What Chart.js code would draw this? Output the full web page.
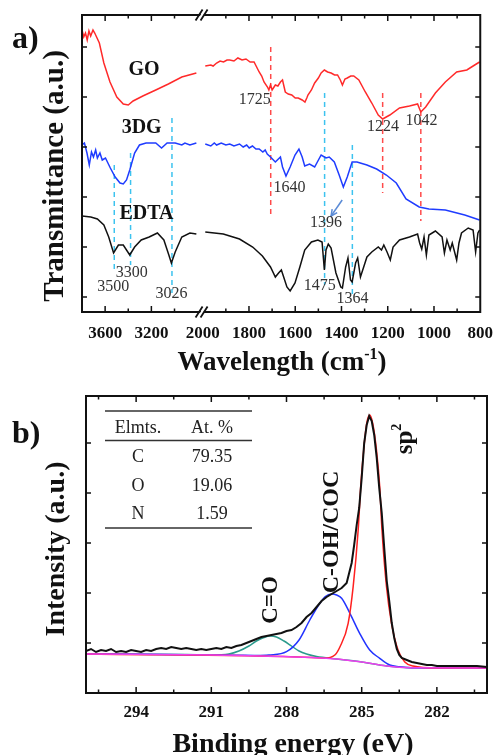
<!DOCTYPE html>
<html>
<head>
<meta charset="utf-8">
<script src="https://cdn.jsdelivr.net/npm/chart.js@4.4.0/dist/chart.umd.min.js"></script>
<style>
  html, body { margin: 0; padding: 0; background: #fff; }
  body { width: 504px; height: 755px; position: relative; overflow: hidden; }
  .box { position: absolute; left: 0; width: 504px; }
  #boxA { top: 0; height: 380px; }
  #boxB { top: 380px; height: 375px; }
</style>
</head>
<body>
<div class="box" id="boxA"><canvas id="ftirChart"></canvas></div>
<div class="box" id="boxB"><canvas id="xpsChart"></canvas></div>
<script>
// ---------- a) FTIR spectra (wavenumber, transmittance a.u.) ----------
const goWn = [3800, 3785, 3770, 3755, 3740, 3725, 3705, 3690, 3650, 3611, 3558, 3499, 3443, 3400, 3358, 3274, 3162, 3053, 2937, 2811,
  1989, 1965, 1955, 1940, 1925, 1910, 1895, 1883, 1865, 1848, 1830, 1813, 1795, 1778, 1756, 1745, 1735, 1720, 1714, 1707, 1700, 1686,
  1675, 1664, 1655, 1643, 1630, 1615, 1600, 1587, 1570, 1558, 1550, 1545, 1530, 1516, 1500, 1488, 1474, 1460, 1445, 1430, 1417, 1405,
  1396, 1385, 1375, 1360, 1347, 1325, 1297, 1269, 1241, 1222, 1191, 1149, 1106, 1071, 1057, 1036, 994, 951, 902, 858, 824, 803];
const goT = [282, 275, 279, 272, 281, 276, 282, 279, 269, 249, 230, 215, 208, 207, 211, 216, 222, 228, 235, 239,
  246, 247, 246, 249, 251, 250, 252, 252, 251, 254, 252, 253, 250, 250, 240, 236, 230, 225, 222, 227, 222, 227,
  226, 230, 232, 220, 218, 217, 214, 214, 212, 210, 214, 217, 222, 229, 234, 239, 242, 240, 239, 237, 237, 232,
  227, 233, 234, 236, 236, 232, 220, 209, 197, 193, 197, 204, 206, 208, 200, 205, 219, 230, 240, 242, 247, 250];

const dgWn = [3800, 3779, 3757, 3737, 3718, 3701, 3682, 3667, 3645, 3625, 3597, 3555, 3513, 3471, 3443, 3415, 3387, 3345, 3303, 3246,
  3162, 3112, 3064, 2994, 2937, 2910, 2867, 2811,
  1989, 1965, 1950, 1940, 1920, 1900, 1883, 1865, 1841, 1825, 1810, 1799, 1785, 1770, 1756, 1740, 1730, 1721, 1707, 1686, 1664, 1655,
  1640, 1622, 1601, 1584, 1570, 1559, 1538, 1516, 1488, 1467, 1453, 1431, 1410, 1392, 1375, 1354, 1333, 1290, 1248, 1206, 1163, 1121,
  1064, 1022, 951, 867, 803];
const dgT = [167, 169, 159, 147, 160, 155, 162, 154, 159, 152, 154, 144, 135, 129, 128, 132, 142, 159, 167, 169,
  169, 164, 169, 169, 167, 169, 167, 169,
  168, 166, 169, 167, 169, 167, 168, 166, 168, 165, 167, 164, 166, 163, 163, 160, 162, 158, 155, 150, 155, 145,
  136, 145, 157, 163, 155, 146, 148, 145, 157, 154, 155, 150, 137, 125, 135, 150, 150, 147, 143, 137, 129, 113,
  105, 103, 102, 97, 92];

const edtaWn = [3800, 3724, 3667, 3611, 3569, 3527, 3485, 3443, 3387, 3345, 3288, 3219, 3148, 3092, 3049, 3027, 2994, 2937, 2867, 2811,
  1989, 1911, 1841, 1784, 1742, 1707, 1686, 1672, 1660, 1650, 1636, 1622, 1601, 1580, 1559, 1530, 1502, 1484, 1474, 1467, 1457, 1445,
  1424, 1403, 1396, 1382, 1372, 1361, 1354, 1339, 1330, 1318, 1304, 1290, 1269, 1241, 1227, 1217, 1203, 1189, 1177, 1149, 1106, 1071,
  1062, 1053, 1043, 1033, 1022, 994, 965, 955, 944, 930, 921, 902, 892, 881, 852, 831, 820, 810, 803];
const edtaT = [96, 95, 93, 87, 75, 59, 67, 67, 57, 65, 72, 75, 79, 72, 57, 49, 60, 75, 79, 78,
  80, 78, 73, 65, 56, 45, 35, 39, 42, 35, 25, 21, 29, 45, 62, 70, 72, 70, 42, 62, 68, 64,
  39, 25, 24, 45, 54, 32, 30, 49, 54, 35, 45, 55, 60, 65, 62, 67, 60, 52, 65, 72, 75, 78,
  69, 63, 75, 57, 77, 81, 75, 59, 72, 62, 69, 52, 69, 79, 84, 82, 60, 79, 82];

const tickWn = [3600, 3200, 2000, 1800, 1600, 1400, 1200, 1000, 800];
const minorWn = [3400, 3000, 1900, 1700, 1500, 1300, 1100, 900];
const transTicks = [15, 65, 115, 165, 215, 265];

// dashed marker lines
const markWn = [3521, 3380, 3022, 1706, 1473, 1353, 1222, 1057];
const markTop = [147, 159, 194, 265, 219, 167, 219, 219];
const markBottom = [42, 47, 19, 94, 27, 15, 119, 91];
const markColor = ['#3cc3ef', '#3cc3ef', '#3cc3ef', '#ff4a4a', '#3cc3ef', '#3cc3ef', '#ff4a4a', '#ff4a4a'];

const peakText = ['1725', '1224', '1042', '1640', '1396', '3300', '3500', '3026', '1475', '1364'];
const peakTextWn = [1775, 1221, 1054, 1625, 1467, 3369, 3529, 3026, 1494, 1352];
const peakTextY = [212, 185, 191, 124.5, 89.3, 39.5, 25.3, 18, 26, 13.5];

const seriesNames = ['GO', '3DG', 'EDTA'];
const seriesNameWn = [3263, 3284, 3242];
const seriesNameY = [242, 184.5, 98.5];

// ---------- b) XPS C 1s ----------
const xpsE = [296.0, 295.8, 295.6, 295.4, 295.2, 295.0, 294.8, 294.6, 294.4, 294.2, 294.0, 293.8, 293.6, 293.4, 293.2, 293.0,
  292.8, 292.6, 292.4, 292.2, 292.0, 291.8, 291.6, 291.4, 291.2, 291.0, 290.8, 290.6, 290.4, 290.2, 290.0, 289.8, 289.6,
  289.4, 289.2, 289.0, 288.8, 288.6, 288.4, 288.2, 288.0, 287.8, 287.6, 287.4, 287.2, 287.0, 286.8, 286.6, 286.4, 286.2,
  286.0, 285.8, 285.6, 285.5, 285.4, 285.3, 285.2, 285.1, 285.0, 284.9, 284.8, 284.7, 284.6, 284.5, 284.4, 284.3, 284.2,
  284.1, 284.0, 283.9, 283.8, 283.7, 283.6, 283.5, 283.4, 283.2, 283.0, 282.8, 282.6, 282.4, 282.2, 282.0, 281.6, 281.2,
  280.8, 280.4, 280.0];
const xpsI = [42, 44, 41, 43, 42, 44, 41, 42, 41, 43, 42, 41, 43, 42, 44, 45,
  44, 46, 45, 44, 45, 44, 43, 44, 43, 44, 45, 44, 46, 45, 47, 48, 50,
  52, 54, 56, 57, 58, 59, 60, 62, 63, 66, 70, 76, 80, 86, 92, 96, 99,
  102, 105, 110, 120, 130, 148, 168, 185, 215, 250, 268, 277, 272, 258, 235, 205, 180,
  145, 112, 92, 70, 55, 44, 38, 35, 33, 31, 30, 29, 28, 28, 27, 27, 27,
  27, 27, 26];

const bgE = [296, 291, 289, 287, 286, 285.5, 285, 284.5, 284, 283.5, 283, 280];
const bgI = [39, 38, 37, 35.5, 34, 32.5, 31, 29, 27, 25.7, 25.3, 25];

const coE = [296, 292, 291, 290.3, 289.9, 289.5, 289.2, 288.9, 288.65, 288.4, 288.1, 287.8, 287.5, 287.2, 286.8, 286, 285, 284, 283, 280];
const coI = [39, 38.5, 38, 39, 42, 47, 52, 55.5, 57, 56, 52, 47, 42, 39, 36.5, 34, 31, 27, 25.3, 25];

const cohE = [296, 290, 289.2, 288.7, 288.0, 287.5, 287.07, 286.67, 286.45, 286.2, 286.0, 285.8, 285.47, 285.08, 284.68, 284.28, 283.88, 283.5, 283, 280];
const cohI = [39, 37.8, 37.5, 38, 41.3, 53, 73, 89.7, 96.5, 99, 98, 94.7, 79.7, 59.7, 43, 34.7, 28, 26.3, 25.3, 25];

const sp2E = [296, 287, 286.5, 286.07, 285.87, 285.54, 285.34, 285.14, 285.04, 284.92, 284.80, 284.68, 284.56, 284.41, 284.28, 284.19, 284.01, 283.81, 283.55, 283.28, 282.95, 282, 280];
const sp2I = [39, 35.5, 34.8, 38, 46, 69.7, 106.3, 163, 206.3, 243, 269.7, 278, 269.7, 243, 206.3, 163, 106.3, 69.7, 43, 31, 27, 25, 25];

const bindTicks = [294, 291, 288, 285, 282];
const bindMinor = [295.5, 292.5, 289.5, 286.5, 283.5, 280.5];
const intTicks = [50, 100, 150, 200, 250];

const elements = ['C', 'O', 'N'];
const atPercent = ['79.35', '19.06', '1.59'];

const compLabels = ['C=O', 'C-OH/COC'];
const compLabelE = [288.38, 285.95];
const compLabelI = [93, 161];
const sp2LabelE = 283.0, sp2LabelI = 254;

// ---------- helpers ----------
const SERIF = '"Liberation Serif", "Times New Roman", serif';

// broken axis: left part 3800-2760 squeezed 2x, right part 2000-800
function toAxis(wn) {
  return wn > 2400 ? (3800 - wn) / 2 : 522 + (2000 - wn);
}

function spectrum(wn, t, color) {
  const pts = [];
  for (let i = 0; i < wn.length; i++) {
    if (i > 0 && wn[i - 1] > 2400 && wn[i] <= 2400) pts.push({ x: 517, y: null });
    pts.push({ x: toAxis(wn[i]), y: t[i] });
  }
  return { data: pts, borderColor: color, borderWidth: 1.5, pointRadius: 0, tension: 0, spanGaps: false };
}

function xy(xs, ys) {
  return xs.map((v, i) => ({ x: v, y: ys[i] }));
}

// draw text made of parts (for superscripts); x is the centre
function drawParts(ctx, parts, x, y) {
  let total = 0;
  parts.forEach(p => { ctx.font = p.font; p.w = ctx.measureText(p.t).width; total += p.w; });
  let cx = x - total / 2;
  ctx.textAlign = 'left';
  ctx.textBaseline = 'alphabetic';
  parts.forEach(p => { ctx.font = p.font; ctx.fillText(p.t, cx, y + (p.dy || 0)); cx += p.w; });
}

function drawRotated(ctx, x, y, fn) {
  ctx.save();
  ctx.translate(x, y);
  ctx.rotate(-Math.PI / 2);
  fn();
  ctx.restore();
}

function tickMarks(ctx, a, xs, len, scaleX, both) {
  xs.forEach(v => {
    const px = scaleX.getPixelForValue(v);
    ctx.beginPath();
    ctx.moveTo(px, a.bottom); ctx.lineTo(px, a.bottom - len);
    if (both) { ctx.moveTo(px, a.top); ctx.lineTo(px, a.top + len); }
    ctx.stroke();
  });
}

function yTickMarks(ctx, a, ys, len, scaleY) {
  ys.forEach(v => {
    const py = scaleY.getPixelForValue(v);
    ctx.beginPath();
    ctx.moveTo(a.left, py); ctx.lineTo(a.left + len, py);
    ctx.moveTo(a.right, py); ctx.lineTo(a.right - len, py);
    ctx.stroke();
  });
}

// ---------- panel a decorations ----------
const ftirDecor = {
  id: 'ftirDecor',
  afterDraw(chart) {
    const { ctx, chartArea: a, scales: { x, y } } = chart;
    ctx.save();

    // arrow to the 1396 band
    const x1 = x.getPixelForValue(toAxis(1397)), y1 = y.getPixelForValue(112);
    const x2 = x.getPixelForValue(toAxis(1445)), y2 = y.getPixelForValue(96);
    ctx.strokeStyle = '#5b8bd6'; ctx.lineWidth = 1.5;
    ctx.beginPath(); ctx.moveTo(x1, y1); ctx.lineTo(x2, y2); ctx.stroke();
    const ang = Math.atan2(y2 - y1, x2 - x1);
    ctx.beginPath();
    ctx.moveTo(x2 - 7 * Math.cos(ang - 0.45), y2 - 7 * Math.sin(ang - 0.45));
    ctx.lineTo(x2, y2);
    ctx.lineTo(x2 - 7 * Math.cos(ang + 0.45), y2 - 7 * Math.sin(ang + 0.45));
    ctx.stroke();

    // band labels
    ctx.fillStyle = '#333';
    ctx.font = '16px ' + SERIF;
    ctx.textAlign = 'center'; ctx.textBaseline = 'middle';
    peakText.forEach((t, i) => {
      ctx.fillText(t, x.getPixelForValue(toAxis(peakTextWn[i])), y.getPixelForValue(peakTextY[i]));
    });
    ctx.fillStyle = '#111';
    ctx.font = 'bold 20px ' + SERIF;
    seriesNames.forEach((t, i) => {
      ctx.fillText(t, x.getPixelForValue(toAxis(seriesNameWn[i])), y.getPixelForValue(seriesNameY[i]));
    });

    // frame and inner ticks
    ctx.strokeStyle = '#111'; ctx.lineWidth = 2;
    ctx.strokeRect(a.left, a.top, a.right - a.left, a.bottom - a.top);
    ctx.lineWidth = 1.5;
    tickMarks(ctx, a, tickWn.filter(w => w !== 2000 && w !== 800).map(toAxis), 6, x, true);
    tickMarks(ctx, a, minorWn.map(toAxis), 3.5, x, true);
    yTickMarks(ctx, a, transTicks, 5, y);

    // axis break marks
    const bx = x.getPixelForValue(517);
    [a.top, a.bottom].forEach(yy => {
      ctx.fillStyle = '#fff';
      ctx.beginPath();
      ctx.moveTo(bx - 4, yy + 5); ctx.lineTo(bx + 2, yy - 5); ctx.lineTo(bx + 5, yy - 5); ctx.lineTo(bx - 1, yy + 5);
      ctx.closePath(); ctx.fill();
      ctx.strokeStyle = '#111'; ctx.lineWidth = 1.8;
      ctx.beginPath();
      ctx.moveTo(bx - 6, yy + 5.5); ctx.lineTo(bx + 1, yy - 5.5);
      ctx.moveTo(bx - 1, yy + 5.5); ctx.lineTo(bx + 6, yy - 5.5);
      ctx.stroke();
    });

    // titles
    ctx.fillStyle = '#111';
    ctx.font = 'bold 32px ' + SERIF;
    ctx.textAlign = 'left'; ctx.textBaseline = 'alphabetic';
    ctx.fillText('a)', 12, 48);
    drawParts(ctx, [
      { t: 'Wavelength (cm', font: 'bold 27px ' + SERIF },
      { t: '-1', font: 'bold 16px ' + SERIF, dy: -11 },
      { t: ')', font: 'bold 27px ' + SERIF }
    ], 282, 370);
    drawRotated(ctx, 63, 176, () => {
      ctx.font = 'bold 29px ' + SERIF;
      ctx.textAlign = 'center'; ctx.textBaseline = 'alphabetic';
      ctx.fillText('Transmittance (a.u.)', 0, 0);
    });
    ctx.restore();
  }
};

const axisText = { color: '#111', font: { family: SERIF, size: 17, weight: 'bold' } };

new Chart(document.getElementById('ftirChart'), {
  type: 'line',
  data: {
    datasets: [
      spectrum(goWn, goT, '#ff2a2a'),
      spectrum(dgWn, dgT, '#1f3cff'),
      spectrum(edtaWn, edtaT, '#111111'),
      ...markWn.map((w, i) => ({
        data: [{ x: toAxis(w), y: markTop[i] }, { x: toAxis(w), y: markBottom[i] }],
        borderColor: markColor[i], borderDash: [5, 4], borderWidth: 1.5, pointRadius: 0
      }))
    ]
  },
  options: {
    responsive: true, maintainAspectRatio: false, animation: false, devicePixelRatio: 1,
    layout: { padding: { top: 15, right: 15, left: 0, bottom: 0 } },
    plugins: { legend: { display: false }, tooltip: { enabled: false } },
    scales: {
      x: {
        type: 'linear', min: 0, max: 1722,
        afterFit: s => { s.height = 68; },
        afterBuildTicks: s => { s.ticks = tickWn.map(w => ({ value: toAxis(w) })); },
        ticks: { ...axisText, autoSkip: false, maxRotation: 0, padding: 11, callback: (v, i) => String(tickWn[i]) },
        grid: { display: false, drawTicks: false },
        border: { display: false }
      },
      y: {
        type: 'linear', min: 0, max: 297,
        afterFit: s => { s.width = 82; },
        ticks: { display: false },
        grid: { display: false, drawTicks: false },
        border: { display: false }
      }
    }
  },
  plugins: [ftirDecor]
});

// ---------- panel b decorations ----------
const xpsDecor = {
  id: 'xpsDecor',
  afterDraw(chart) {
    const { ctx, chartArea: a, scales: { x, y } } = chart;
    ctx.save();

    // composition table
    ctx.strokeStyle = '#333'; ctx.lineWidth = 1.5;
    [31, 60.5, 148].forEach(ly => {
      ctx.beginPath(); ctx.moveTo(105, ly); ctx.lineTo(252, ly); ctx.stroke();
    });
    ctx.fillStyle = '#222';
    ctx.font = '18px ' + SERIF;
    ctx.textAlign = 'center'; ctx.textBaseline = 'alphabetic';
    ctx.fillText('Elmts.', 138, 53);
    ctx.fillText('At. %', 212, 53);
    const rowY = [81.7, 110.7, 139.3];
    elements.forEach((el, i) => {
      ctx.fillText(el, 138, rowY[i]);
      ctx.fillText(atPercent[i], 212, rowY[i]);
    });

    // component labels (rotated)
    ctx.fillStyle = '#111';
    compLabels.forEach((t, i) => {
      drawRotated(ctx, x.getPixelForValue(compLabelE[i]), y.getPixelForValue(compLabelI[i]), () => {
        ctx.font = 'bold ' + (i === 0 ? 23 : 24) + 'px ' + SERIF;
        ctx.textAlign = 'center'; ctx.textBaseline = 'alphabetic';
        ctx.fillText(t, 0, 0);
      });
    });
    drawRotated(ctx, x.getPixelForValue(sp2LabelE), y.getPixelForValue(sp2LabelI), () => {
      drawParts(ctx, [
        { t: 'sp', font: 'bold 25px ' + SERIF },
        { t: '2', font: 'bold 14px ' + SERIF, dy: -11 }
      ], 0, 0);
    });

    // frame and inner ticks
    ctx.strokeStyle = '#111'; ctx.lineWidth = 2;
    ctx.strokeRect(a.left, a.top, a.right - a.left, a.bottom - a.top);
    ctx.lineWidth = 1.5;
    tickMarks(ctx, a, bindTicks, 6, x, true);
    tickMarks(ctx, a, bindMinor, 3.5, x, true);
    yTickMarks(ctx, a, intTicks, 5, y);

    // titles
    ctx.fillStyle = '#111';
    ctx.font = 'bold 32px ' + SERIF;
    ctx.textAlign = 'left'; ctx.textBaseline = 'alphabetic';
    ctx.fillText('b)', 12, 63);
    ctx.font = 'bold 28px ' + SERIF;
    ctx.textAlign = 'center';
    ctx.fillText('Binding energy (eV)', 293, 371.5);
    drawRotated(ctx, 64, 169, () => {
      ctx.font = 'bold 28px ' + SERIF;
      ctx.textAlign = 'center'; ctx.textBaseline = 'alphabetic';
      ctx.fillText('Intensity (a.u.)', 0, 0);
    });
    ctx.restore();
  }
};

const comp = (xs, ys, color) => ({
  data: xy(xs, ys), borderColor: color, borderWidth: 1.5, pointRadius: 0, cubicInterpolationMode: 'monotone'
});

new Chart(document.getElementById('xpsChart'), {
  type: 'line',
  data: {
    datasets: [
      { data: xy(xpsE, xpsI), borderColor: '#111111', borderWidth: 2, pointRadius: 0, tension: 0 },
      comp(bgE, bgI, '#ee40ee'),
      comp(sp2E, sp2I, '#ff2020'),
      comp(cohE, cohI, '#2233ff'),
      comp(coE, coI, '#2a9a8c')
    ]
  },
  options: {
    responsive: true, maintainAspectRatio: false, animation: false, devicePixelRatio: 1,
    layout: { padding: { top: 16, right: 17, left: 0, bottom: 0 } },
    plugins: { legend: { display: false }, tooltip: { enabled: false } },
    scales: {
      x: {
        type: 'linear', min: 280, max: 296, reverse: true,
        afterFit: s => { s.height = 62; },
        afterBuildTicks: s => { s.ticks = bindTicks.map(v => ({ value: v })); },
        ticks: { ...axisText, autoSkip: false, maxRotation: 0, padding: 9 },
        grid: { display: false, drawTicks: false },
        border: { display: false }
      },
      y: {
        type: 'linear', min: 0, max: 297,
        afterFit: s => { s.width = 86; },
        ticks: { display: false },
        grid: { display: false, drawTicks: false },
        border: { display: false }
      }
    }
  },
  plugins: [xpsDecor]
});
</script>
</body>
</html>
